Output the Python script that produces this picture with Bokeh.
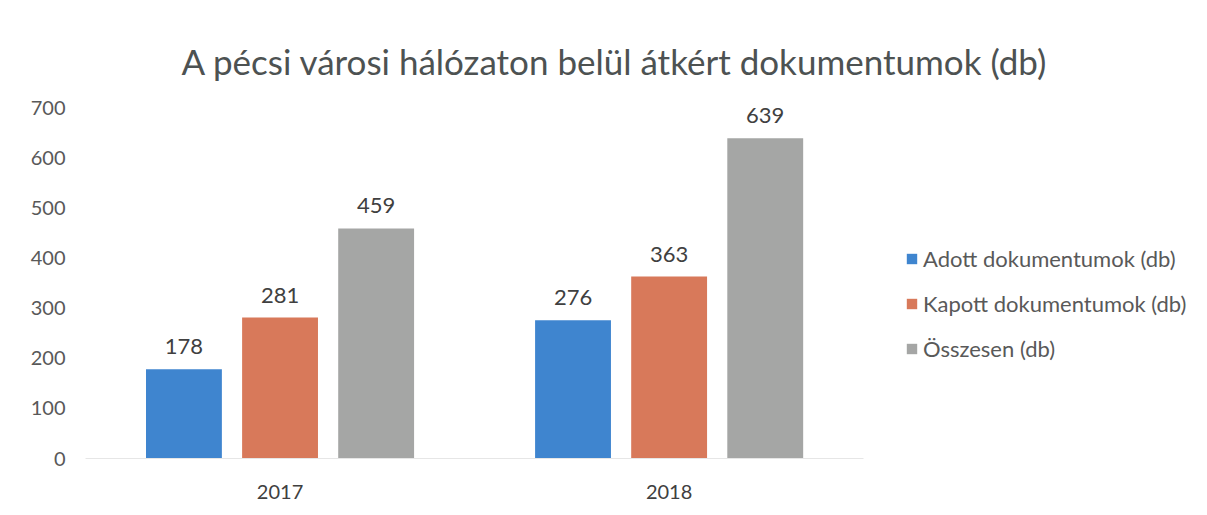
from bokeh.plotting import figure
from bokeh.models import ColumnDataSource, Legend, LegendItem, Range1d, Title, FixedTicker
from bokeh.transform import dodge
from bokeh.embed import file_html
from bokeh.resources import INLINE
from bokeh.core.properties import value

years = ["2017", "2018"]
adott = [178, 276]
kapott = [281, 363]
osszesen = [459, 639]
series_names = ["Adott dokumentumok (db)", "Kapott dokumentumok (db)", "Összesen (db)"]
colors = ["#3f85cf", "#d8795a", "#a5a6a5"]
y_ticks = [0, 100, 200, 300, 400, 500, 600, 700]
title_text = "A pécsi városi hálózaton belül átkért dokumentumok (db)"

FONT = "Lato"

pos = [i + 0.5 for i in range(len(years))]
src = ColumnDataSource(dict(pos=pos, adott=adott, kapott=kapott, osszesen=osszesen,
                            adott_s=[str(v) for v in adott],
                            kapott_s=[str(v) for v in kapott],
                            osszesen_s=[str(v) for v in osszesen]))

p = figure(x_range=Range1d(0, 2.84), y_range=Range1d(0, 740),
           width=1190, height=507, output_backend="svg", toolbar_location=None,
           min_border_top=87, min_border_bottom=49, min_border_left=85, min_border_right=0)
p.title = None
t = Title(text=title_text, align="left", offset=96, text_font=FONT,
          text_font_size="35px", text_font_style="normal", text_color="#4d5252",
          standoff=12)
p.add_layout(t, "above")

offsets = [-0.247, 0.0, 0.247]
fields = ["adott", "kapott", "osszesen"]
renderers = []
for off, f, c in zip(offsets, fields, colors):
    r = p.vbar(x=dodge("pos", off), top=f, width=0.195, source=src,
               fill_color=c, line_color=None)
    renderers.append(r)
    p.text(x=dodge("pos", off), y=f, text=f + "_s", source=src,
           text_align="center", text_baseline="bottom", y_offset=-15,
           text_font=value(FONT), text_font_size="22px", text_color="#404040")

legend = Legend(items=[LegendItem(label=n, renderers=[r]) for n, r in zip(series_names, renderers)],
                location=(820, 96), border_line_color=None, background_fill_alpha=0,
                label_text_font=FONT, label_text_font_size="22px", label_text_color="#595959",
                glyph_width=13, glyph_height=13, label_height=22, spacing=18, padding=0,
                label_standoff=5, margin=0)
p.add_layout(legend, "center")

p.outline_line_color = None
p.xgrid.grid_line_color = None
p.ygrid.grid_line_color = None
p.yaxis.ticker = y_ticks
p.yaxis.axis_line_color = None
p.yaxis.major_tick_line_color = None
p.yaxis.minor_tick_line_color = None
p.yaxis.major_label_text_font = FONT
p.yaxis.major_label_text_font_size = "20px"
p.yaxis.major_label_text_color = "#595959"
p.yaxis.major_label_standoff = 14
p.xaxis.ticker = FixedTicker(ticks=pos)
p.xaxis.major_label_overrides = {x: y for x, y in zip(pos, years)}
p.xaxis.bounds = (0, len(years))
p.xaxis.axis_line_color = "#e6e6e6"
p.xaxis.major_tick_line_color = None
p.xaxis.minor_tick_line_color = None
p.xaxis.major_label_text_font = FONT
p.xaxis.major_label_text_font_size = "20px"
p.xaxis.major_label_text_color = "#404040"
p.xaxis.major_label_standoff = 20

open("out.html", "w").write(file_html(p, INLINE))
